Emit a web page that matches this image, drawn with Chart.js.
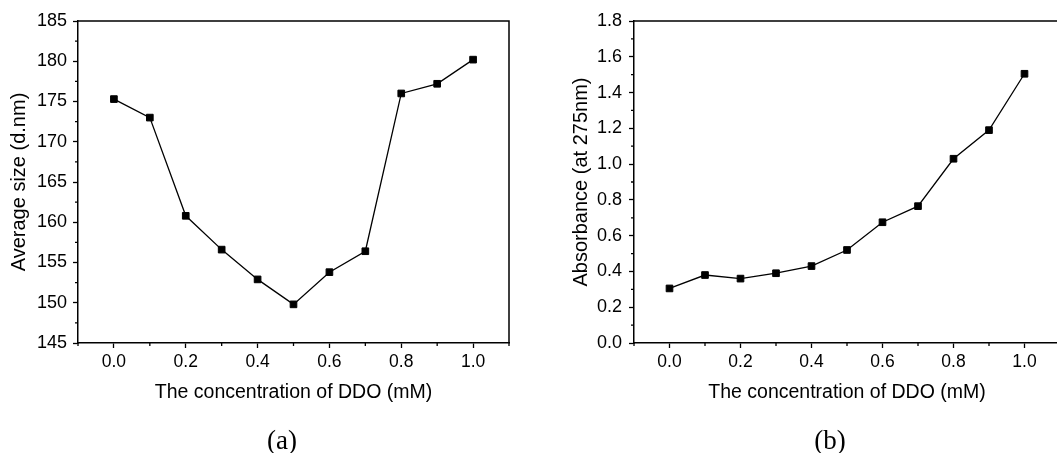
<!DOCTYPE html>
<html><head><meta charset="utf-8">
<script src="https://cdn.jsdelivr.net/npm/chart.js@4.4.1/dist/chart.umd.min.js"></script>
<style>
html,body{margin:0;padding:0;background:#fff;overflow:hidden;width:1057px;height:453px;position:relative;}
#ca{position:absolute;left:0;top:0;}
#cb{position:absolute;left:530px;top:0;}
.lab{position:absolute;font-family:"Liberation Serif","Times New Roman",serif;font-size:27px;color:#000;transform:translate(-50%,-50%);top:440px;white-space:nowrap;line-height:1;}
</style></head><body>
<canvas id="ca" width="530" height="453"></canvas>
<canvas id="cb" width="560" height="453"></canvas>
<div class="lab" style="left:282px">(a)</div>
<div class="lab" style="left:830px">(b)</div>
<script>
// ---- data ----
const concentrations = [0.0, 0.1, 0.2, 0.3, 0.4, 0.5, 0.6, 0.7, 0.8, 0.9, 1.0];
const averageSize = [175.3, 173.0, 160.8, 156.6, 152.9, 149.8, 153.8, 156.4, 176.0, 177.2, 180.2];
const absorbance = [0.305, 0.38, 0.36, 0.39, 0.43, 0.52, 0.675, 0.765, 1.03, 1.19, 1.505];
const xTickValues = [0.0, 0.2, 0.4, 0.6, 0.8, 1.0];
const sizeTickValues = [145, 150, 155, 160, 165, 170, 175, 180, 185];
const absTickValues = [0.0, 0.2, 0.4, 0.6, 0.8, 1.0, 1.2, 1.4, 1.6, 1.8];
const xTitle = 'The concentration of DDO (mM)';
const sizeTitle = 'Average size (d.nm)';
const absTitle = 'Absorbance (at 275nm)';

const FONT = '"Liberation Sans", Arial, Helvetica, sans-serif';

function midpoints(arr, lo, hi) {
  const step = arr[1] - arr[0];
  const out = [];
  for (let i = 0; i <= arr.length; i++) {
    const v = (i === 0 ? arr[0] - step / 2 : arr[i - 1] + step / 2);
    if (v >= lo - 1e-9 && v <= hi + 1e-9) out.push(v);
  }
  return out;
}

const framePlugin = {
  id: 'frame',
  afterDraw(chart) {
    const {ctx, chartArea: a} = chart;
    ctx.save();
    ctx.strokeStyle = '#000';
    ctx.lineWidth = 1.5;
    ctx.beginPath();
    ctx.moveTo(a.left, a.top);
    ctx.lineTo(a.right, a.top);
    ctx.lineTo(a.right, a.bottom);
    ctx.stroke();
    // minor ticks
    ctx.lineWidth = 1.3;
    const xs = chart.scales.x, ys = chart.scales.y;
    const xm = midpoints(chart.options.scales.x.majorValues, xs.min, xs.max);
    const ym = midpoints(chart.options.scales.y.majorValues, ys.min, ys.max);
    ctx.beginPath();
    xm.forEach(v => { const p = xs.getPixelForValue(v); ctx.moveTo(p, a.bottom); ctx.lineTo(p, a.bottom + 3); });
    ym.forEach(v => { const p = ys.getPixelForValue(v); ctx.moveTo(a.left, p); ctx.lineTo(a.left - 3, p); });
    ctx.stroke();
    ctx.restore();
  }
};

function makeChart(id, values, yTicks, yMin, yMax, yTitle, yDigits, opts) {
  return new Chart(document.getElementById(id), {
    type: 'line',
    data: {
      datasets: [{
        data: concentrations.map((c, i) => ({x: c, y: values[i]})),
        borderColor: '#000',
        borderWidth: 1.3,
        backgroundColor: '#000',
        pointStyle: 'rect',
        pointRadius: 4.7,
        pointBorderWidth: 1,
        pointBorderColor: '#000',
        pointBackgroundColor: '#000',
        tension: 0,
        fill: false
      }]
    },
    options: {
      responsive: false,
      devicePixelRatio: 1,
      animation: false,
      layout: {padding: {top: 21, right: opts.padRight, left: 0, bottom: 0}},
      plugins: {legend: {display: false}, tooltip: {enabled: false}},
      scales: {
        x: {
          type: 'linear', min: -0.1, max: 1.1,
          majorValues: xTickValues,
          afterBuildTicks: s => { s.ticks = xTickValues.map(v => ({value: v})); },
          afterFit: s => { s.height = 110; },
          grid: {drawOnChartArea: false, drawTicks: true, tickLength: 5, tickColor: '#000', tickWidth: 1.3},
          border: {display: true, color: '#000', width: 1.5},
          ticks: {color: '#000', padding: 4, maxRotation: 0, autoSkip: false,
                  font: {family: FONT, size: 17.5}, callback: v => Number(v).toFixed(1)},
          title: {display: true, text: xTitle, color: '#000', font: {family: FONT, size: 19.5},
                  padding: {top: 0, bottom: 48.5}}
        },
        y: {
          type: 'linear', min: yMin, max: yMax,
          majorValues: yTicks,
          afterBuildTicks: s => { s.ticks = yTicks.map(v => ({value: v})); },
          afterFit: s => { s.width = opts.yWidth; },
          grid: {drawOnChartArea: false, drawTicks: true, tickLength: 5, tickColor: '#000', tickWidth: 1.3},
          border: {display: true, color: '#000', width: 1.5},
          ticks: {color: '#000', padding: opts.yPad, autoSkip: false,
                  font: {family: FONT, size: 18}, callback: v => Number(v).toFixed(yDigits)},
          title: {display: true, text: yTitle, color: '#000', font: {family: FONT, size: 20},
                  padding: {top: opts.yTitlePad, bottom: 0}}
        }
      }
    },
    plugins: [framePlugin]
  });
}

makeChart('ca', averageSize, sizeTickValues, 145, 185, sizeTitle, 0,
  {padRight: 21, yWidth: 78, yPad: 6, yTitlePad: 7});
makeChart('cb', absorbance, absTickValues, 0, 1.8, absTitle, 1,
  {padRight: 30, yWidth: 104, yPad: 7, yTitlePad: 39});
</script>
</body></html>
